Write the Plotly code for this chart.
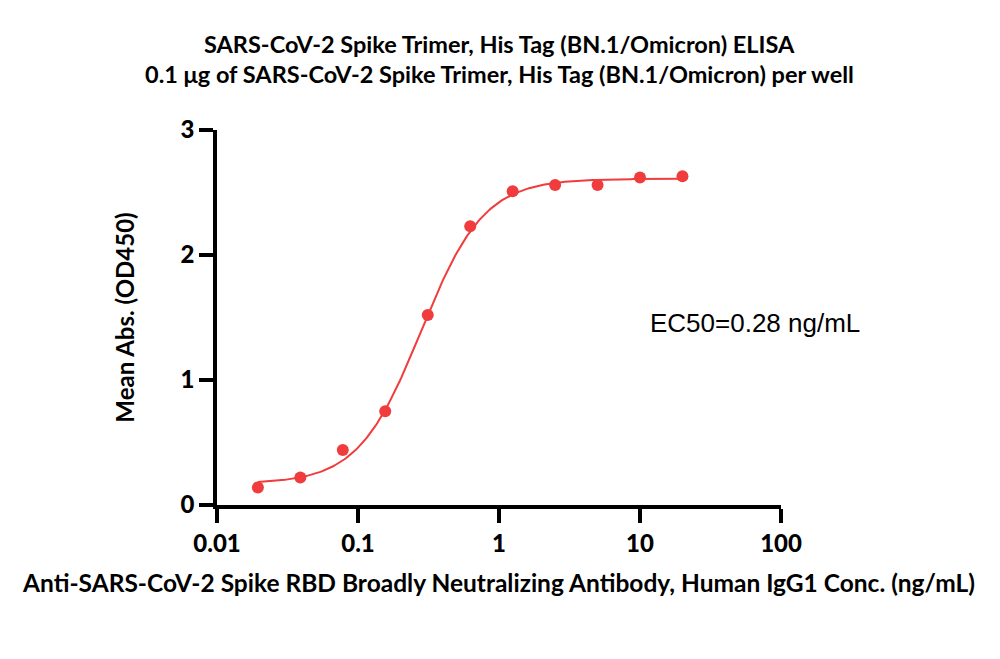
import plotly.graph_objects as go
import numpy as np

# antibody concentration (ng/mL) and mean absorbance
conc = [0.0195, 0.039, 0.078, 0.156, 0.3125, 0.625, 1.25, 2.5, 5, 10, 20]
od450 = [0.14, 0.22, 0.44, 0.75, 1.52, 2.23, 2.51, 2.56, 2.56, 2.62, 2.63]

# 4PL fit parameters
fit_bottom = 0.17
fit_top = 2.61
fit_ec50 = 0.28
fit_hill = 1.95

x_ticks = [0.01, 0.1, 1, 10, 100]
x_tick_text = ['0.01', '0.1', '1', '10', '100']
y_ticks = [0, 1, 2, 3]

RED = '#F03C3C'
FONT = 'Lato'

xs = np.logspace(np.log10(conc[0]), np.log10(conc[-1]), 300)
fit = fit_bottom + (fit_top - fit_bottom) / (1 + (fit_ec50 / xs) ** fit_hill)

fig = go.Figure()
fig.add_trace(go.Scatter(x=xs, y=fit, mode='lines', line=dict(color=RED, width=2),
                         showlegend=False, hoverinfo='skip'))
fig.add_trace(go.Scatter(x=conc, y=od450, mode='markers',
                         marker=dict(color=RED, size=12), showlegend=False))

axis_common = dict(showline=True, linecolor='black', linewidth=3.5, ticks='outside',
                   ticklen=14, tickwidth=3.5, tickcolor='black', showgrid=False,
                   zeroline=False,
                   tickfont=dict(family=FONT, size=24, color='black', weight=900))

fig.update_xaxes(type='log', range=[-2, 2], tickvals=x_ticks, ticktext=x_tick_text,
                 title=dict(text='Anti-SARS-CoV-2 Spike RBD Broadly Neutralizing Antibody, Human IgG1 Conc. (ng/mL)',
                            font=dict(family=FONT, size=24.5, color='black', weight='bold'),
                            standoff=20),
                 **axis_common)
fig.update_yaxes(range=[0, 3], tickvals=y_ticks,
                 title=dict(text='Mean Abs. (OD450)',
                            font=dict(family=FONT, size=24, color='black', weight='bold'),
                            standoff=40),
                 **axis_common)

fig.add_annotation(text='SARS-CoV-2 Spike Trimer, His Tag (BN.1/Omicron) ELISA',
                   xref='paper', yref='paper', x=0.5, y=1.229, yanchor='middle',
                   showarrow=False,
                   font=dict(family=FONT, size=23.5, color='black', weight='bold'))
fig.add_annotation(text='0.1 μg of SARS-CoV-2 Spike Trimer, His Tag (BN.1/Omicron) per well',
                   xref='paper', yref='paper', x=0.5, y=1.149, yanchor='middle',
                   showarrow=False,
                   font=dict(family=FONT, size=23.5, color='black', weight='bold'))
fig.add_annotation(text='EC50=0.28 ng/mL', xref='paper', yref='paper', x=0.954, y=0.485,
                   showarrow=False, xanchor='center', yanchor='middle',
                   font=dict(family='Liberation Sans', size=26, color='black'))

# the page body adds an 8px offset, compensated in the margins
fig.update_layout(width=1000, height=659, plot_bgcolor='white', paper_bgcolor='white',
                  margin=dict(l=209, r=227, t=122, b=162))

fig.write_html("out.html")
